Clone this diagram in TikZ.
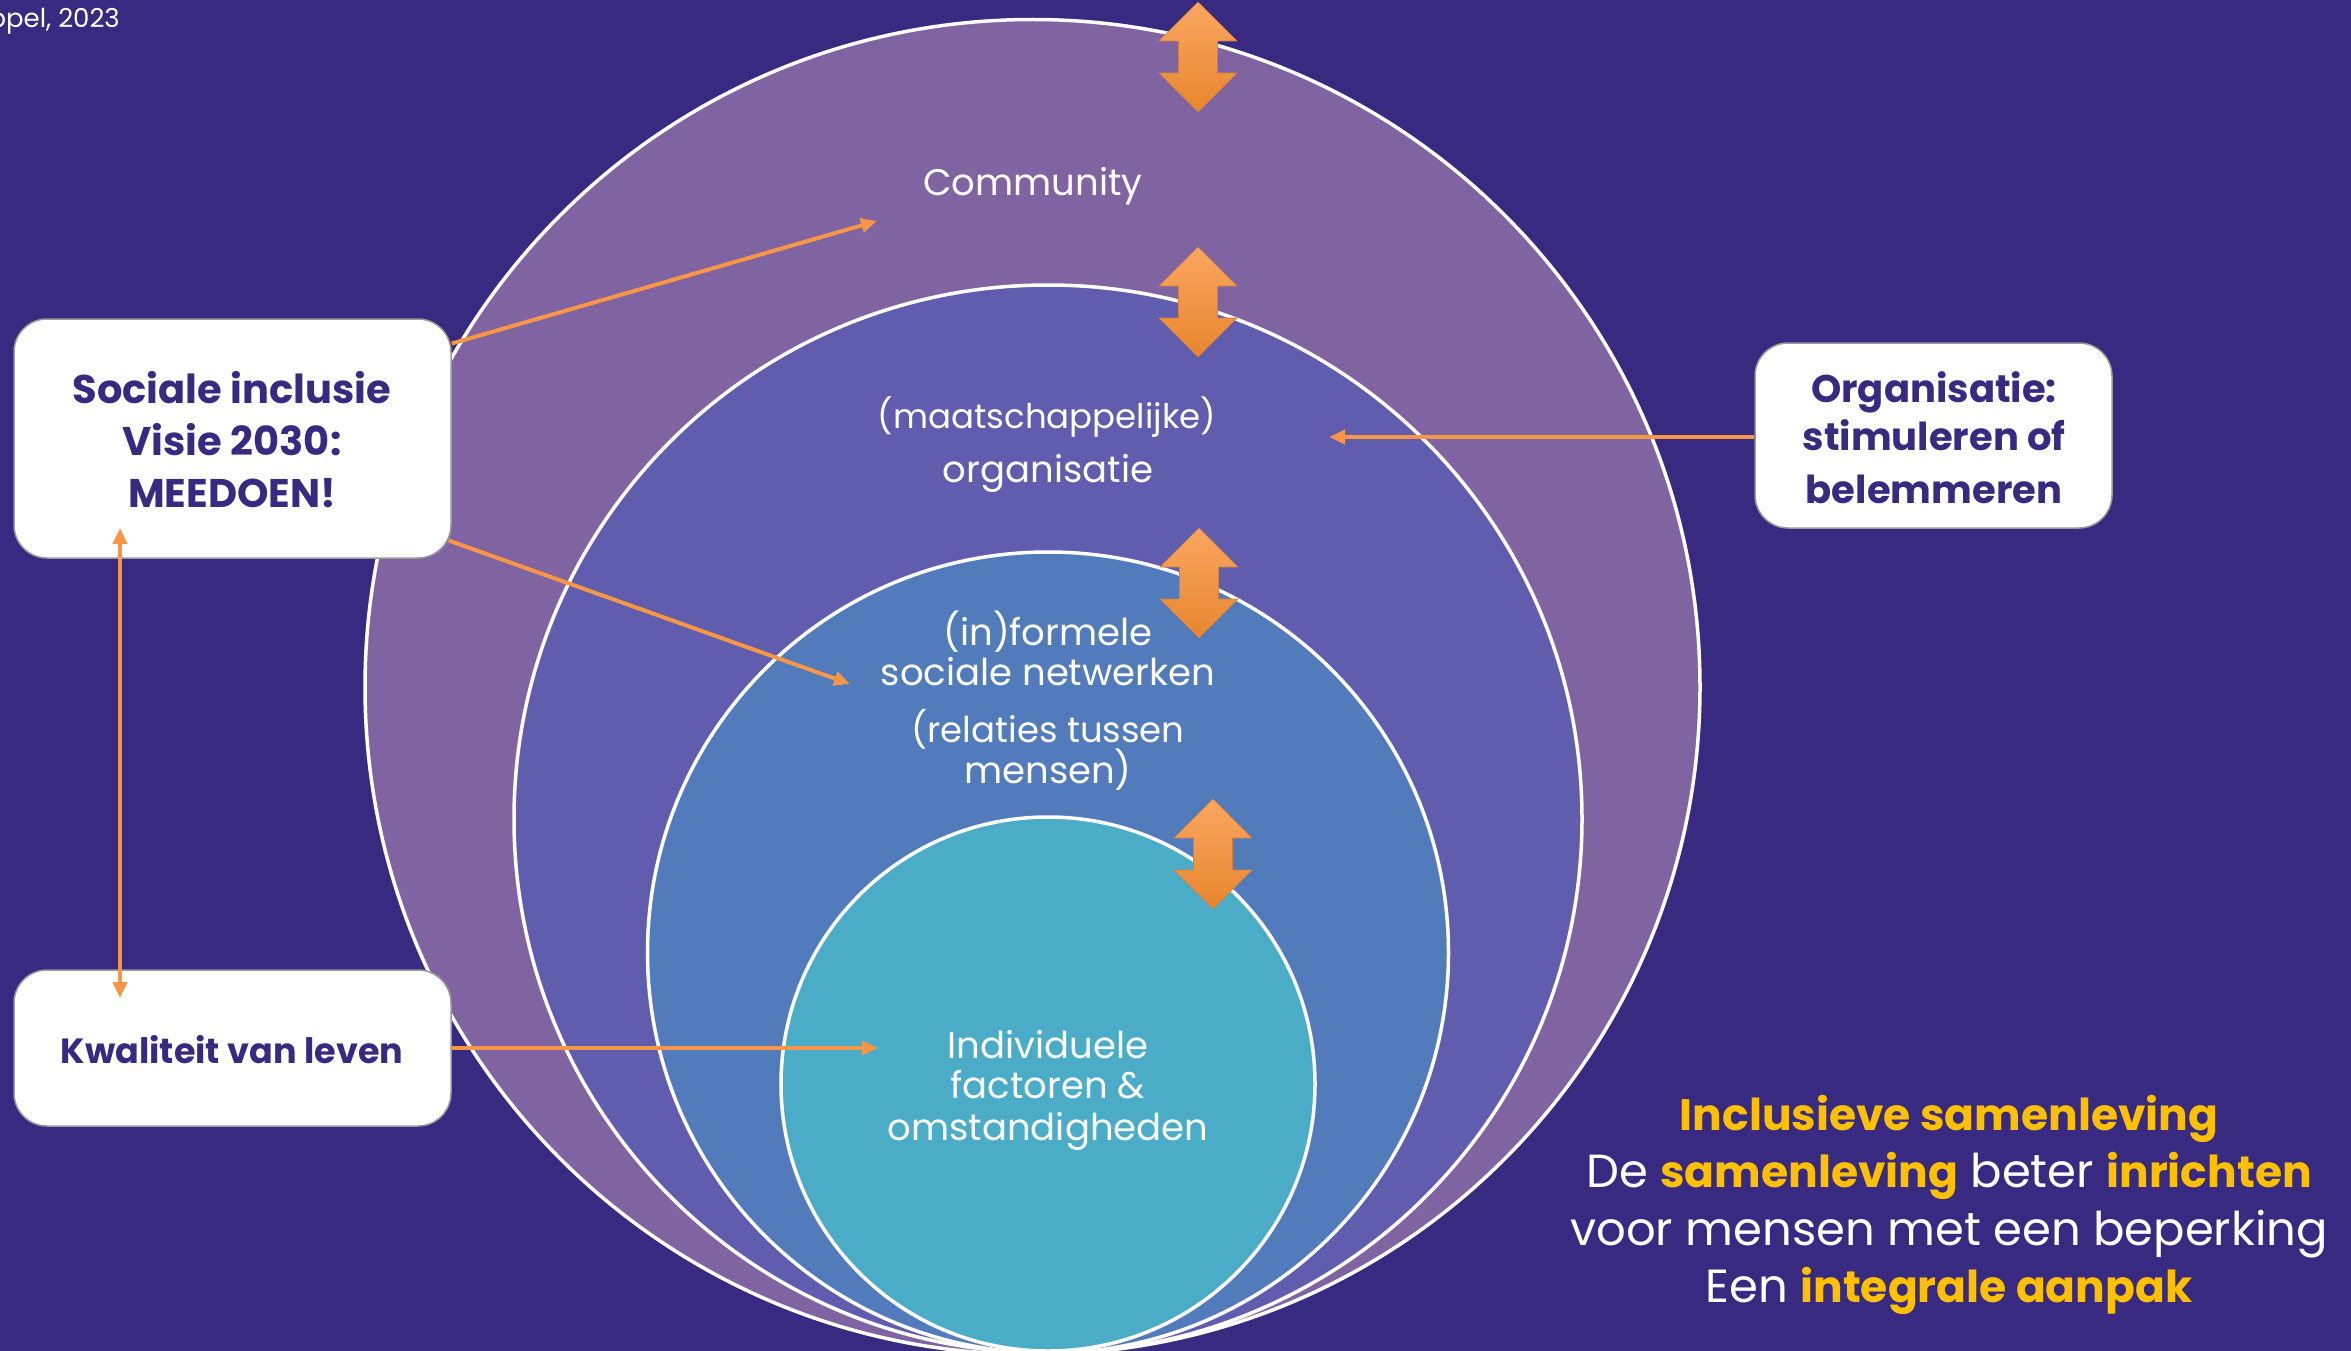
\documentclass[tikz,border=0pt]{standalone}
\usepackage{fontspec}
\setmainfont{Poppins}
\usetikzlibrary{arrows.meta,calc}
\definecolor{bgc}{RGB}{55,42,128}
\definecolor{cone}{RGB}{128,100,162}
\definecolor{ctwo}{RGB}{96,92,174}
\definecolor{cthree}{RGB}{82,123,188}
\definecolor{cfour}{RGB}{74,172,198}
\definecolor{boxtxt}{RGB}{55,42,128}
\definecolor{orng}{RGB}{247,150,70}
\definecolor{orngtop}{RGB}{250,166,96}
\definecolor{orngbot}{RGB}{232,134,46}
\definecolor{yel}{RGB}{255,192,0}
\newcommand\yb[1]{\textcolor{yel}{\bfseries\fontsize{44}{57}\selectfont #1}}
\begin{document}
\begin{tikzpicture}[x=1pt,y=-1pt,
  ring/.style={circle,draw=white,line width=3.5pt,inner sep=0pt},
  lbl/.style={text=white,font=\fontsize{37}{41}\selectfont,anchor=base,inner sep=0pt},
  box/.style={draw=gray!80,line width=1.5pt,fill=white,rounded corners=33pt,inner sep=0pt},
  btxt/.style={text=boxtxt,font=\bfseries\fontsize{40}{51}\selectfont,anchor=base,inner sep=0pt},
  rtxt/.style={text=white,font=\fontsize{46.5}{57}\selectfont,anchor=base,inner sep=0pt},
  conn/.style={draw=orng,line width=4pt,-{Triangle[length=16pt,width=14pt]}},
  conntwo/.style={draw=orng,line width=4pt,{Triangle[length=16pt,width=14pt]}-{Triangle[length=16pt,width=14pt]}},
  barrow/.style={top color=orngtop,bottom color=orngbot,draw=orng!85!black,line width=0.6pt},
  dbl/.pic={\path[barrow] (0,0) -- (39,39) -- (19.5,39) -- (19.5,71) -- (39,71) -- (0,110) -- (-39,71) -- (-19.5,71) -- (-19.5,39) -- (-39,39) -- cycle;}
]
\useasboundingbox (0,0) rectangle (2351,1351);
\fill[bgc] (0,0) rectangle (2351,1351);

% rings
\node[ring,fill=cone,minimum size=1335pt] (c1) at (1032.5,687) {};
\node[ring,fill=ctwo,minimum size=1068pt] (c2) at (1048,819) {};
\node[ring,fill=cthree,minimum size=801pt] (c3) at (1048,952.5) {};
\node[ring,fill=cfour,minimum size=534pt] (c4) at (1048,1084) {};

% ring labels
\node[lbl] (lcomm) at (1033,196) {Community};
\node[lbl,font=\fontsize{34}{41}\selectfont] (lmaat) at (1047,428) {(maatschappelijke)};
\node[lbl] (lorg) at (1048,482) {organisatie};
\node[lbl] (linf) at (1048,645) {(in)formele};
\node[lbl] (lsoc) at (1048,685) {sociale netwerken};
\node[lbl,font=\fontsize{35.5}{41}\selectfont] (lrel) at (1048,742) {(relaties tussen};
\node[lbl] (lmen) at (1048,783) {mensen)};
\node[lbl] (lind) at (1048,1058) {Individuele};
\node[lbl] (lfac) at (1048,1098) {factoren \&};
\node[lbl] (loms) at (1048,1140) {omstandigheden};

% block double arrows
\pic at (1198,2) {dbl};
\pic at (1198,247) {dbl};
\pic at (1199,528) {dbl};
\pic at (1213,799) {dbl};

% boxes
\node[box,minimum width=437pt,minimum height=239pt] (soc) at (232.5,438.5) {};
\node[box,minimum width=437pt,minimum height=156pt] (kwal) at (232.5,1048) {};
\node[box,minimum width=357pt,minimum height=185pt] (org) at (1933.5,435.5) {};

% connectors
\coordinate (commTip) at (877,221);
\coordinate (netTip) at (850,684);
\coordinate (indTip) at (878,1048);
\coordinate (orgTip) at (1329,437);
\coordinate (vTop) at (120,528);
\coordinate (vBot) at (120,998);
\draw[conn] ($(soc.east)+(0,-95)$) -- (commTip);
\draw[conn] ($(soc.east)+(-3,102)$) -- (netTip);
\draw[conn] (kwal.east) -- (indTip);
\draw[conn] (org.west |- orgTip) -- (orgTip);
\draw[conntwo] (vTop) -- (vBot);

% box texts
\node[btxt] (t1) at (232,403) {Sociale inclusie};
\node[btxt] (t2) at (232,455) {Visie 2030:};
\node[btxt] (t3) at (232,507) {MEEDOEN!};
\node[btxt,font=\bfseries\fontsize{35}{41}\selectfont] (t4) at (232,1063) {Kwaliteit van leven};
\node[btxt,font=\bfseries\fontsize{38.5}{51}\selectfont] (t5) at (1934,402) {Organisatie:};
\node[btxt,font=\bfseries\fontsize{38.5}{51}\selectfont] (t6) at (1934,450) {stimuleren of};
\node[btxt,font=\bfseries\fontsize{38.5}{51}\selectfont] (t7) at (1934,503) {belemmeren};

% bottom right text
\node[rtxt] (r1) at (1949,1130) {\yb{Inclusieve samenleving}};
\node[rtxt] (r2) at (1949,1187) {De \yb{samenleving} beter \yb{inrichten}};
\node[rtxt] (r3) at (1949,1245) {voor mensen met een beperking};
\node[rtxt] (r4) at (1949,1302) {Een \yb{integrale aanpak}};

% source
\node[text=white,font=\fontsize{26}{30}\selectfont,anchor=base east,inner sep=0pt] (src) at (120,28) {ppel, 2023};
\end{tikzpicture}
\end{document}
